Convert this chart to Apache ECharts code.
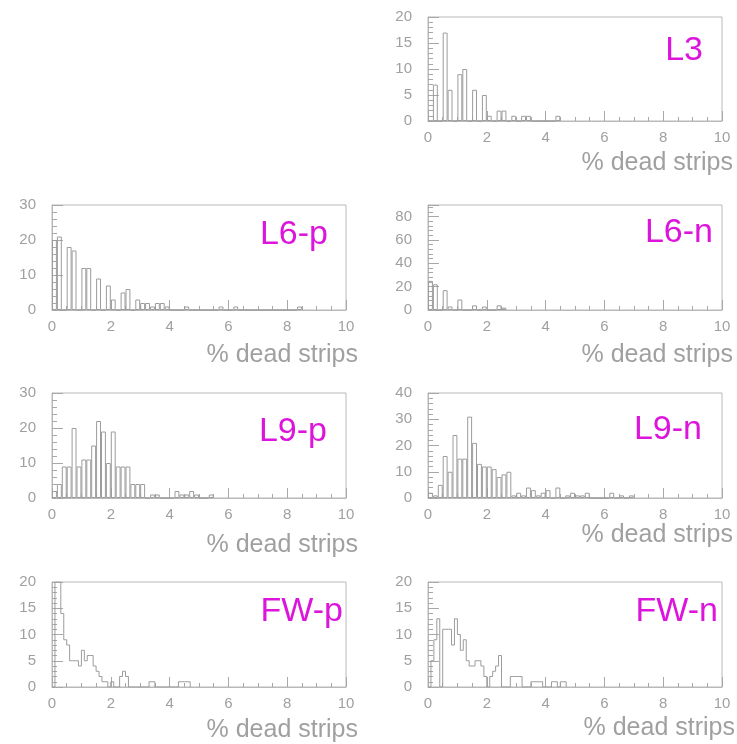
<!DOCTYPE html>
<html>
<head>
<meta charset="utf-8">
<title>% dead strips</title>
<script src="https://cdn.jsdelivr.net/npm/echarts@6/dist/echarts.min.js"></script>
<style>
  html, body { margin: 0; padding: 0; background: #fff; }
  #main { width: 737px; height: 744px; }
</style>
</head>
<body>
<div id="main"></div>
<script>
// bin widths (in % dead strips)
const binL = 10 / 60;
const binFW = 0.1;

// entries per bin, starting at 0 %
const countsL3  = [0, 7, 0, 17, 6, 0, 9, 10, 0, 6, 0, 5, 1, 0, 2, 2, 0, 1, 0, 1, 1, 0, 0, 0, 0, 0, 1];
const countsL6p = [20, 21, 0, 18, 17, 0, 12, 12, 0, 9, 0, 7, 3, 0, 5, 6, 0, 3, 2, 2, 1, 2, 2, 1, 0, 0, 0, 1,
                   0, 0, 0, 0, 0, 0, 1, 0, 0, 1, 0, 0, 0, 0, 0, 0, 0, 0, 0, 0, 0, 0, 1];
const countsL6n = [25, 22, 0, 17, 3, 0, 9, 0, 0, 4, 0, 3, 0, 0, 4, 2];
const countsL9p = [2, 4, 9, 9, 20, 9, 11, 11, 15, 22, 19, 10, 19, 9, 9, 9, 4, 4, 4, 0, 1, 1, 0, 0, 0, 2, 1, 1,
                   2, 1, 0, 0, 1];
const countsL9n = [2, 1, 5, 16, 10, 24, 15, 15, 31, 21, 13, 12, 12, 11, 8, 9, 10, 1, 2, 1, 4, 3, 1, 2, 3, 0, 4,
                   0, 1, 2, 1, 1, 2, 0, 0, 0, 0, 2, 0, 1, 0, 1];
const countsFWp = [0, 20, 20, 14, 9, 8, 5, 5, 5, 4, 7, 5, 6, 6, 4, 3, 2, 1, 1, 0, 1, 0, 0, 2, 3, 2, 0, 0, 0, 0,
                   0, 0, 0, 1, 1, 0, 0, 0, 0, 0, 0, 0, 0, 1, 1, 1, 1];
const countsFWn = [0, 5, 9, 13, 0, 11, 11, 11, 8, 13, 10, 7, 9, 5, 4, 4, 5, 5, 4, 2, 0, 2, 3, 4, 6, 0, 0, 0, 2,
                   2, 2, 2, 0, 0, 0, 1, 1, 1, 1, 0, 0, 0, 1, 1, 0, 1, 1];

// x axis ticks
const xMax = 10;
const xStep = 2;
const xName = '% dead strips';

const panels = [
  { title: 'L3',   counts: countsL3,  bin: binL,  kind: 'bar',  yMax: 20, yStep: 5,  yMinor: 5,
    rect: [428, 17, 294, 104], titleAt: [703, 51],  nameAt: [733, 163] },
  { title: 'L6-p', counts: countsL6p, bin: binL,  kind: 'bar',  yMax: 30, yStep: 10, yMinor: 5,
    rect: [52, 205, 294, 105], titleAt: [328, 235], nameAt: [358, 355] },
  { title: 'L6-n', counts: countsL6n, bin: binL,  kind: 'bar',  yMax: 90, yStep: 20, yMinor: 5,
    rect: [428, 205, 294, 105], titleAt: [713, 233], nameAt: [733, 355] },
  { title: 'L9-p', counts: countsL9p, bin: binL,  kind: 'bar',  yMax: 30, yStep: 10, yMinor: 5,
    rect: [52, 393, 294, 105], titleAt: [327, 432], nameAt: [358, 545] },
  { title: 'L9-n', counts: countsL9n, bin: binL,  kind: 'bar',  yMax: 40, yStep: 10, yMinor: 5,
    rect: [428, 393, 294, 105], titleAt: [702, 430], nameAt: [733, 535] },
  { title: 'FW-p', counts: countsFWp, bin: binFW, kind: 'step', yMax: 20, yStep: 5,  yMinor: 5,
    rect: [52, 582, 294, 105], titleAt: [343, 612], nameAt: [358, 730] },
  { title: 'FW-n', counts: countsFWn, bin: binFW, kind: 'step', yMax: 20, yStep: 5,  yMinor: 5,
    rect: [428, 582, 294, 105], titleAt: [718, 612], nameAt: [735, 728] }
];

const frameColor = '#b9b9b9';
const tickColor = '#a8a8a8';
const labelColor = '#a0a0a0';
const histColor = '#9c9c9c';
const titleColor = '#dc14dc';
const font = 'Liberation Sans, Arial, sans-serif';

const grid = [], xAxis = [], yAxis = [], series = [], graphic = [];

panels.forEach((p, k) => {
  grid.push({
    left: p.rect[0], top: p.rect[1], width: p.rect[2], height: p.rect[3],
    show: true, borderColor: frameColor, borderWidth: 1, backgroundColor: 'transparent'
  });
  xAxis.push({
    type: 'value', gridIndex: k, min: 0, max: xMax, interval: xStep,
    axisLine: { show: true, onZero: false, lineStyle: { color: frameColor, width: 1 } },
    axisTick: { show: true, inside: true, length: 10, lineStyle: { color: tickColor } },
    minorTick: { show: true, splitNumber: 4, length: 4, lineStyle: { color: tickColor } },
    axisLabel: { color: labelColor, fontSize: 15, fontFamily: font, margin: 9 },
    splitLine: { show: false }
  });
  yAxis.push({
    type: 'value', gridIndex: k, min: 0, max: p.yMax, interval: p.yStep,
    axisLine: { show: true, onZero: false, lineStyle: { color: frameColor, width: 1 } },
    axisTick: { show: true, inside: true, length: 11, lineStyle: { color: tickColor } },
    minorTick: { show: true, splitNumber: p.yMinor, length: 5, lineStyle: { color: tickColor } },
    axisLabel: { color: labelColor, fontSize: 15, fontFamily: font, margin: 16, showMaxLabel: p.yMax % p.yStep === 0 },
    splitLine: { show: false }
  });

  if (p.kind === 'bar') {
    series.push({
      type: 'bar', xAxisIndex: k, yAxisIndex: k, silent: true,
      barWidth: '100%',
      itemStyle: { color: 'rgba(0,0,0,0)', borderColor: histColor, borderWidth: 1 },
      data: p.counts.map((c, i) => [(i + 0.5) * p.bin, c])
    });
  } else {
    const pts = p.counts.map((c, i) => [i * p.bin, c]);
    pts.push([p.counts.length * p.bin, 0]);
    series.push({
      type: 'line', xAxisIndex: k, yAxisIndex: k, silent: true, step: 'end',
      showSymbol: false, lineStyle: { color: histColor, width: 1 },
      data: pts
    });
  }

  graphic.push({
    type: 'text', x: p.titleAt[0], y: p.titleAt[1], silent: true,
    style: { text: p.title, fill: titleColor, font: '34px ' + font, textAlign: 'right', textVerticalAlign: 'middle' }
  });
  graphic.push({
    type: 'text', x: p.nameAt[0], y: p.nameAt[1], silent: true,
    style: { text: xName, fill: labelColor, font: '25px ' + font, textAlign: 'right', textVerticalAlign: 'middle' }
  });
});

const chart = echarts.init(document.getElementById('main'));
chart.setOption({
  animation: false,
  backgroundColor: '#fff',
  grid: grid,
  xAxis: xAxis,
  yAxis: yAxis,
  series: series,
  graphic: graphic
});
</script>
</body>
</html>
